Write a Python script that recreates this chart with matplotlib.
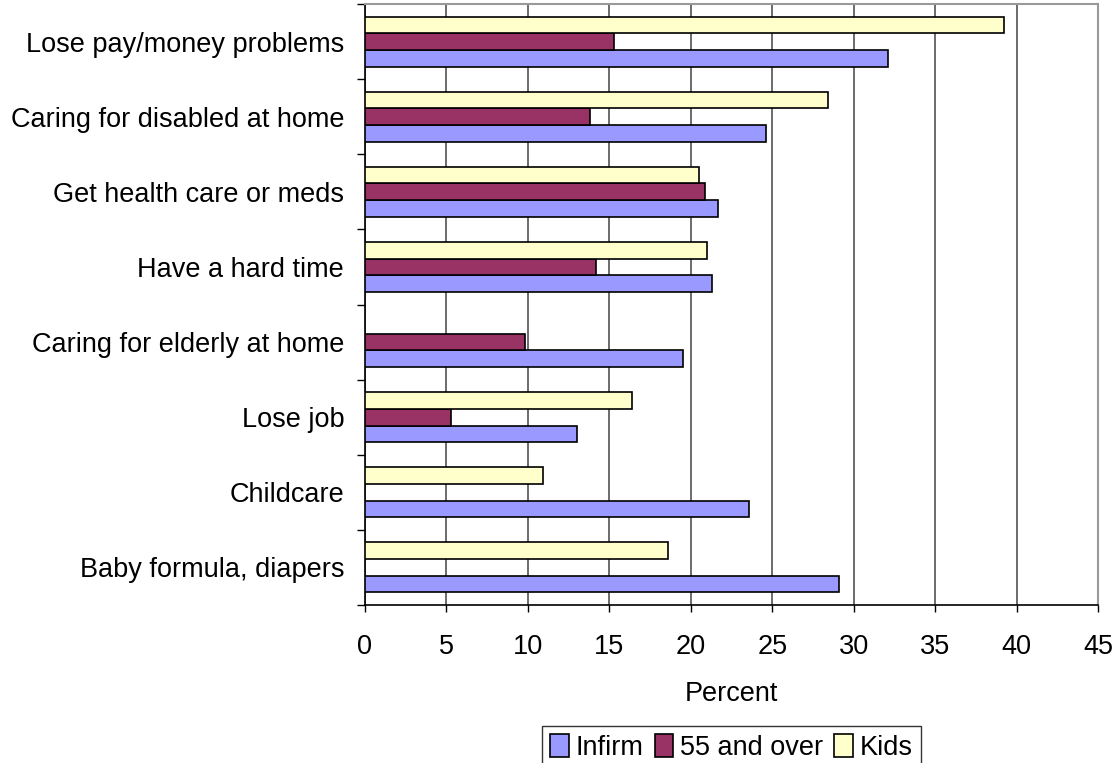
import numpy as np
import matplotlib
matplotlib.use("Agg")
import matplotlib.pyplot as plt

plt.rcParams['font.family'] = ['Liberation Sans', 'DejaVu Sans']

categories = ["Lose pay/money problems", "Caring for disabled at home",
              "Get health care or meds", "Have a hard time",
              "Caring for elderly at home", "Lose job", "Childcare",
              "Baby formula, diapers"]
infirm = [32.1, 24.6, 21.7, 21.3, 19.5, 13.0, 23.6, 29.1]
over55 = [15.3, 13.8, 20.9, 14.2, 9.8, 5.3, np.nan, np.nan]
kids = [39.2, 28.4, 20.5, 21.0, np.nan, 16.4, 10.9, 18.6]

fig = plt.figure(figsize=(11.17, 7.63), dpi=100)
ax = fig.add_axes([365 / 1117, 1 - 605 / 763, 733 / 1117, 601 / 763])

y = np.arange(len(categories))
h = 0.222
ax.barh(y + h, infirm, height=h, color="#9999FF", edgecolor="black", linewidth=1.2, label="Infirm", zorder=3)
ax.barh(y, over55, height=h, color="#993366", edgecolor="black", linewidth=1.2, label="55 and over", zorder=3)
ax.barh(y - h, kids, height=h, color="#FFFFCC", edgecolor="black", linewidth=1.2, label="Kids", zorder=3)

ax.set_xlim(0, 45)
ax.set_ylim(len(categories) - 0.5, -0.5)
ax.set_xticks(np.arange(0, 46, 5))
ax.tick_params(axis='x', labelsize=19.5, length=5, width=1, pad=16, direction='out')

# category boundaries get the tick marks, labels sit in between
ax.set_yticks(np.arange(-0.5, len(categories), 1))
ax.set_yticklabels([])
ax.tick_params(axis='y', which='major', length=6, width=1, direction='out')
ax.set_yticks(y, minor=True)
ax.set_yticklabels(categories, minor=True, fontsize=19.5)
ax.tick_params(axis='y', which='minor', length=0, pad=15)

ax.xaxis.grid(True, color="#444444", linewidth=1.1, zorder=0)
ax.set_axisbelow(True)
for s in ['top', 'right']:
    ax.spines[s].set_color("#999999")
    ax.spines[s].set_linewidth(1.5)
for s in ['left', 'bottom']:
    ax.spines[s].set_color("black")
    ax.spines[s].set_linewidth(1.2)

ax.set_xlabel("Percent", fontsize=19.5, labelpad=15)

leg = fig.legend(loc='upper center', bbox_to_anchor=(731.5 / 1117, 1 - 726 / 763), ncol=3,
                 fontsize=19.5, frameon=True, fancybox=False, edgecolor="black",
                 handlelength=0.7, handleheight=0.9, handletextpad=0.25,
                 columnspacing=0.4, borderpad=0.3, borderaxespad=0)
leg.get_frame().set_linewidth(1)

fig.savefig("out.png", dpi=100)
